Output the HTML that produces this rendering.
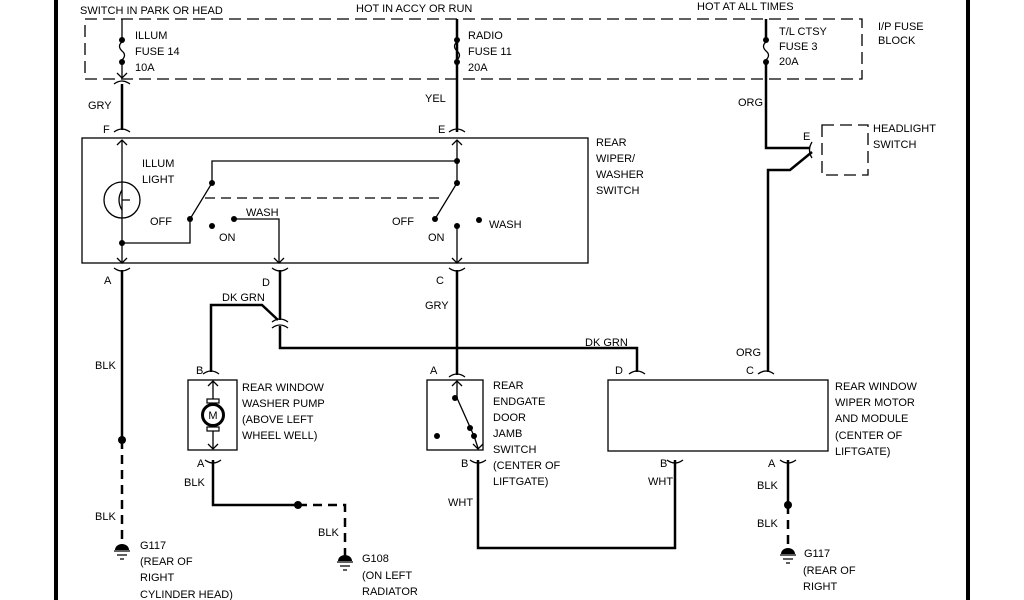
<!DOCTYPE html>
<html><head><meta charset="utf-8"><style>
html,body{margin:0;padding:0;background:#fff;}
svg{display:block;}
text{font-family:"Liberation Sans",sans-serif;font-size:11px;fill:#000;}
</style></head><body>
<svg width="1024" height="600" viewBox="0 0 1024 600" xmlns="http://www.w3.org/2000/svg">
<g fill="none" stroke="#000">
<line x1="56" y1="0" x2="56" y2="600" stroke-width="4"/>
<line x1="968" y1="0" x2="968" y2="600" stroke-width="4"/>
<rect x="85" y="19" width="777" height="60" stroke-dasharray="12,6" stroke-width="1.3"/>
<rect x="822" y="125" width="46" height="50" stroke-dasharray="12,6" stroke-width="1.3"/>
<rect x="82" y="138" width="506" height="125" stroke-width="1.3"/>
<rect x="188" y="380" width="49" height="70" stroke-width="1.3"/>
<rect x="427" y="380" width="56" height="70" stroke-width="1.3"/>
<rect x="608" y="380" width="220" height="71" stroke-width="1.3"/>
<g stroke-width="2.5">
<path d="M122 84 V130"/>
<path d="M457 19 V132"/>
<path d="M766 19 V42 M766 60 V148 H810"/>
<path d="M812 152 L790 170 H768 V372"/>
<path d="M122 270 V440"/>
<path d="M122 440 V545" stroke-dasharray="9,6"/>
<path d="M280 270 V320"/>
<path d="M278 320 L262 305 H211 V372"/>
<path d="M280 326 V348 H637 V372"/>
<path d="M457 270 V375"/>
<path d="M213 460 V505 H298"/>
<path d="M298 505 H345 V555" stroke-dasharray="9,6"/>
<path d="M478 460 V548 H675 V460"/>
<path d="M788 460 V505"/>
<path d="M788 505 V548" stroke-dasharray="9,6"/>
</g>
<g stroke-width="1.3">
<path d="M122 19 V42 M122 60 V78"/>
<path d="M457 19 V42 M457 60 V78"/>
<path d="M122 42 q-5 4 0 9 q5 4 0 9"/>
<path d="M457 42 q-5 4 0 9 q5 4 0 9"/>
<path d="M766 42 q-5 4 0 9 q5 4 0 9"/>
<path d="M122 140 V263 M122 243 H190 V219 L212 183 V161 H457 M457 140 V161 V183 L435 219 M457 226 V262 M234 219 H279 V262"/>
<path d="M205 198 H445" stroke-dasharray="10,6"/>
<path d="M213 382 V399 M213 431 V448 M457 382 V398 L474 436 L478 448"/>
<circle cx="122" cy="200" r="18"/>
<path d="M122 190 q-6 10 0 20 M122 200 l8 0"/>
<path d="M117 145 l5 -5 l5 5 M117 258 l5 5 l5 -5 M452 145 l5 -5 l5 5 M452 258 l5 5 l5 -5 M274 258 l5 5 l5 -5 M208 386 l5 -5 l5 5 M208 444 l5 5 l5 -5 M452 386 l5 -5 l5 5 M473 444 l5 5 l5 -5 M117 73 l5 5 l5 -5"/>
<path d="M114 132 q8 -6 16 0 M449 132 q8 -6 16 0 M114 268 q8 6 16 0 M272 268 q8 6 16 0 M449 268 q8 6 16 0 M272 322 q8 -6 16 0 M272 328 q8 -6 16 0 M203 374 q8 -6 16 0 M449 377 q8 -6 16 0 M629 374 q8 -6 16 0 M758 374 q8 -6 16 0 M205 460 q8 6 16 0 M470 460 q8 6 16 0 M667 460 q8 6 16 0 M780 460 q8 6 16 0 M114 84 q8 -6 16 0 M812 142 q-5 8 0 16"/>
</g>
<circle cx="213" cy="415" r="10.5" stroke-width="3"/>
<rect x="207" y="399" width="12" height="4" stroke-width="1.2"/>
<rect x="207" y="427" width="12" height="4" stroke-width="1.2"/>
<g stroke-width="1.3">
<path d="M114 551 h16 M117 555 h10 M120 559 h4"/>
<path d="M337 562 h16 M340 566 h10 M343 570 h4"/>
<path d="M780 555 h16 M783 559 h10 M786 563 h4"/>
</g>
</g>
<g fill="#000">
<circle cx="122" cy="40" r="3"/><circle cx="122" cy="62" r="3"/>
<circle cx="457" cy="40" r="3"/><circle cx="457" cy="62" r="3"/>
<circle cx="766" cy="40" r="3"/><circle cx="766" cy="62" r="3"/>
<circle cx="122" cy="243" r="3"/><circle cx="212" cy="183" r="3"/><circle cx="190" cy="219" r="3"/>
<circle cx="212" cy="226" r="3"/><circle cx="234" cy="219" r="3"/>
<circle cx="457" cy="161" r="3"/><circle cx="457" cy="183" r="3"/><circle cx="435" cy="219" r="3"/>
<circle cx="457" cy="226" r="3"/><circle cx="479" cy="220" r="3"/>
<circle cx="455" cy="398" r="3"/><circle cx="470" cy="428" r="3"/><circle cx="474" cy="436" r="3"/><circle cx="437" cy="436" r="3"/>
<circle cx="122" cy="440" r="4"/><circle cx="298" cy="505" r="4"/><circle cx="788" cy="505" r="4"/>
<path d="M115 550 a7 6 0 0 1 14 0z"/><path d="M338 561 a7 6 0 0 1 14 0z"/><path d="M781 554 a7 6 0 0 1 14 0z"/>
</g>
<text x="213" y="419" text-anchor="middle" style="font-size:11px">M</text>
<text x="80" y="14">SWITCH IN PARK OR HEAD</text>
<text x="356" y="12">HOT IN ACCY OR RUN</text>
<text x="697" y="10">HOT AT ALL TIMES</text>
<text x="135" y="39">ILLUM</text><text x="135" y="55">FUSE 14</text><text x="135" y="71">10A</text>
<text x="468" y="39">RADIO</text><text x="468" y="55">FUSE 11</text><text x="468" y="71">20A</text>
<text x="779" y="35">T/L CTSY</text><text x="779" y="50">FUSE 3</text><text x="779" y="65">20A</text>
<text x="878" y="30">I/P FUSE</text><text x="878" y="44">BLOCK</text>
<text x="88" y="109">GRY</text><text x="425" y="102">YEL</text><text x="738" y="106">ORG</text>
<text x="103" y="133">F</text><text x="438" y="133">E</text><text x="803" y="140">E</text>
<text x="873" y="132">HEADLIGHT</text><text x="873" y="148">SWITCH</text>
<text x="596" y="146">REAR</text><text x="596" y="162">WIPER/</text><text x="596" y="178">WASHER</text><text x="596" y="194">SWITCH</text>
<text x="142" y="167">ILLUM</text><text x="142" y="183">LIGHT</text>
<text x="150" y="225">OFF</text><text x="219" y="241">ON</text><text x="246" y="216">WASH</text>
<text x="392" y="225">OFF</text><text x="428" y="241">ON</text><text x="489" y="228">WASH</text>
<text x="104" y="284">A</text><text x="262" y="286">D</text><text x="436" y="284">C</text>
<text x="222" y="301">DK GRN</text><text x="585" y="346">DK GRN</text>
<text x="425" y="309">GRY</text><text x="736" y="356">ORG</text>
<text x="95" y="369">BLK</text><text x="95" y="520">BLK</text>
<text x="196" y="374">B</text><text x="430" y="374">A</text><text x="615" y="374">D</text><text x="746" y="374">C</text>
<text x="242" y="391">REAR WINDOW</text><text x="242" y="407">WASHER PUMP</text><text x="242" y="423">(ABOVE LEFT</text><text x="242" y="439">WHEEL WELL)</text>
<text x="493" y="389">REAR</text><text x="493" y="405">ENDGATE</text><text x="493" y="421">DOOR</text><text x="493" y="437">JAMB</text><text x="493" y="453">SWITCH</text><text x="493" y="469">(CENTER OF</text><text x="493" y="485">LIFTGATE)</text>
<text x="835" y="390">REAR WINDOW</text><text x="835" y="406">WIPER MOTOR</text><text x="835" y="422">AND MODULE</text><text x="835" y="439">(CENTER OF</text><text x="835" y="455">LIFTGATE)</text>
<text x="197" y="467">A</text><text x="184" y="486">BLK</text>
<text x="461" y="467">B</text><text x="448" y="506">WHT</text>
<text x="660" y="467">B</text><text x="648" y="485">WHT</text>
<text x="768" y="467">A</text><text x="757" y="489">BLK</text><text x="757" y="527">BLK</text>
<text x="318" y="536">BLK</text>
<text x="140" y="549">G117</text><text x="140" y="565">(REAR OF</text><text x="140" y="581">RIGHT</text><text x="140" y="598">CYLINDER HEAD)</text>
<text x="362" y="562">G108</text><text x="362" y="579">(ON LEFT</text><text x="362" y="595">RADIATOR</text>
<text x="804" y="557">G117</text><text x="803" y="574">(REAR OF</text><text x="803" y="590">RIGHT</text>
</svg>
</body></html>
